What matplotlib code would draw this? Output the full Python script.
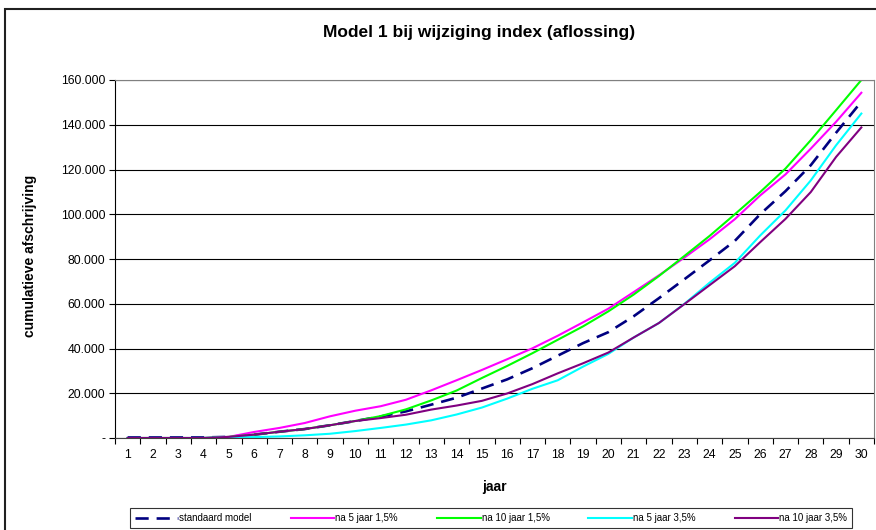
import numpy as np
import matplotlib.pyplot as plt
from matplotlib.patches import Rectangle
from matplotlib.ticker import FuncFormatter, MultipleLocator, FixedLocator

plt.rcParams['font.family'] = ['Liberation Sans', 'DejaVu Sans']

jaar = np.arange(1, 31)

# cumulatieve afschrijving (in euro's)
standaard = [250, 250, 250, 250, 500, 1500, 2800, 4000, 5700, 7600,
             9600, 11900, 14900, 18000, 22100, 26200, 31200, 36800, 42400, 47300,
             54400, 62500, 70900, 79400, 88100, 100000, 110300, 121900, 136400, 150300]
na5_15 = [0, 0, 0, 0, 500, 2700, 4500, 6700, 9700, 12200,
          14200, 17100, 21300, 25800, 30400, 35200, 40100, 45700, 51700, 57800,
          65200, 72700, 80600, 88800, 97800, 108400, 117800, 129300, 141300, 154300]
na10_15 = [0, 0, 0, 0, 500, 1500, 2800, 4000, 5700, 7600,
           9800, 12800, 16800, 21200, 26800, 32200, 37900, 43900, 49900, 56600,
           64100, 72400, 81300, 90300, 100000, 109900, 120400, 133100, 146500, 160000]
na5_35 = [0, 0, 0, 0, 400, 400, 700, 1200, 1900, 3100,
          4500, 6000, 7900, 10500, 13600, 17600, 22000, 25800, 31900, 37600,
          44900, 51400, 59900, 69400, 78300, 90500, 101700, 115100, 130800, 145000]
na10_35 = [0, 0, 0, 0, 500, 1500, 2800, 4000, 5700, 7600,
           8900, 10400, 12700, 14500, 16600, 19900, 24100, 28900, 33400, 38200,
           44900, 51400, 59800, 68300, 76800, 87500, 97900, 109900, 125600, 138800]

labels = ['standaard model', 'na 5 jaar 1,5%', 'na 10 jaar 1,5%',
          'na 5 jaar 3,5%', 'na 10 jaar 3,5%']


def nl_format(v, pos):
  if v == 0:
    return '-'
  return '{:,.0f}'.format(v).replace(',', '.')


fig = plt.figure(figsize=(8.76, 5.30), dpi=100)
ax = fig.add_axes([115/876, 1 - 438/530, 759/876, 358/530])

ax.plot(jaar, standaard, color='#000080', lw=1.9, dashes=(5, 3), label=labels[0])
ax.plot(jaar, na5_15, color='#FF00FF', lw=1.5, label=labels[1])
ax.plot(jaar, na10_15, color='#00FF00', lw=1.5, label=labels[2])
ax.plot(jaar, na5_35, color='#00FFFF', lw=1.5, label=labels[3])
ax.plot(jaar, na10_35, color='#800080', lw=1.5, label=labels[4])

ax.set_xlim(0.5, 30.5)
ax.set_ylim(0, 160000)
ax.xaxis.set_major_locator(FixedLocator(jaar))
ax.xaxis.set_minor_locator(FixedLocator(np.arange(0.5, 31, 1)))
ax.yaxis.set_major_locator(MultipleLocator(20000))
ax.yaxis.set_major_formatter(FuncFormatter(nl_format))
ax.tick_params(axis='x', which='major', length=0, pad=8, labelsize=8.8)
ax.tick_params(axis='x', which='minor', length=4, direction='out', width=0.8)
ax.tick_params(axis='y', length=4, direction='out', width=0.8, pad=3, labelsize=8.8)

ax.grid(axis='y', color='black', lw=0.8)
ax.set_axisbelow(True)
for side in ['top', 'right']:
  ax.spines[side].set_color('#808080')
ax.spines['bottom'].set_color('#404040')

fig.text(479/876, 1 - 33/530, 'Model 1 bij wijziging index (aflossing)',
         ha='center', va='center', fontsize=12.5, fontweight='bold')
fig.text(30/876, 1 - 256/530, 'cumulatieve afschrijving', rotation=90,
         ha='center', va='center', fontsize=10, fontweight='bold')
fig.text(494/876, 1 - 487/530, 'jaar', ha='center', va='center',
         fontsize=10, fontweight='bold')

leg = fig.legend(loc='center', bbox_to_anchor=(491/876, 1 - 518/530), ncol=5,
                 fontsize=7, frameon=True, fancybox=False, handlelength=4.5,
                 handletextpad=0.1, columnspacing=4.0, borderpad=0.5)
leg.get_frame().set_edgecolor('black')
leg.get_frame().set_linewidth(0.8)
for t in leg.get_texts():
  t.set_family(['Liberation Sans Narrow', 'Liberation Sans'])

fig.patches.append(Rectangle((5/876, -0.05), 1.0, 1.05 - 9/530, transform=fig.transFigure,
                             fill=False, edgecolor='#202020', lw=1.5))

fig.savefig('out.png', dpi=100)
